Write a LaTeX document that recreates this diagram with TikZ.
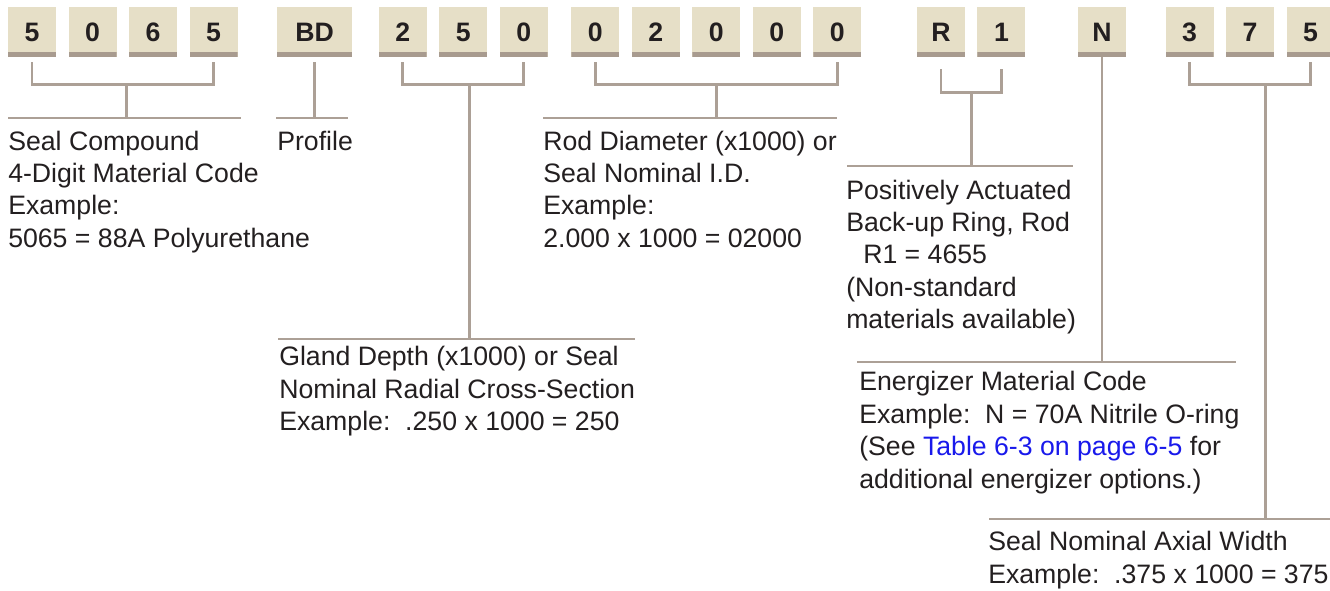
\documentclass[tikz,border=0pt]{standalone}
\usepackage{fontspec}
\setmainfont{Liberation Sans}
\usepackage{tikz}
\usetikzlibrary{positioning, calc}
\definecolor{tanfill}{RGB}{230,223,199}
\definecolor{tanbar}{RGB}{168,155,143}
\definecolor{tanline}{RGB}{172,160,150}
\definecolor{inktext}{RGB}{35,31,32}
\definecolor{linkblue}{RGB}{25,25,235}

\begin{document}
\begin{tikzpicture}[
  x=0.75pt, y=-0.75pt,
  digit/.style={rectangle, fill=tanfill, minimum width=36pt, minimum height=37.5pt,
                inner sep=0pt, text=inktext,
                font=\fontsize{20}{24}\selectfont\bfseries,
                path picture={\fill[tanbar] (path picture bounding box.south west)
                  rectangle ([yshift=3.75pt]path picture bounding box.south east);}},
  wide/.style={digit, minimum width=56.25pt},
  bracket/.style={draw=tanline, line width=2pt},
  note/.style={anchor=north west, align=left, inner sep=0pt, text=inktext,
               font=\fontsize{20}{24.3}\selectfont, execute at begin node=\strut},
]
  \useasboundingbox (0,0) rectangle (1330,590);

  \node[digit] (c1) at (32,32) {5};
  \node[digit, right=9pt of c1]     (c2) {0};
  \node[digit, right=9pt of c2]     (c3) {6};
  \node[digit, right=9pt of c3]     (c4) {5};
  \node[wide,  right=29.25pt of c4] (p)  {BD};
  \node[digit, right=19.5pt of p]   (g1) {2};
  \node[digit, right=9pt of g1]     (g2) {5};
  \node[digit, right=9pt of g2]     (g3) {0};
  \node[digit, right=17.25pt of g3] (r1) {0};
  \node[digit, right=9pt of r1]     (r2) {2};
  \node[digit, right=9pt of r2]     (r3) {0};
  \node[digit, right=9pt of r3]     (r4) {0};
  \node[digit, right=9pt of r4]     (r5) {0};
  \node[digit, right=41.25pt of r5] (b1) {R};
  \node[digit, right=9pt of b1]     (b2) {1};
  \node[digit, right=39pt of b2]    (e)  {N};
  \node[digit, right=29.25pt of e]  (w1) {3};
  \node[digit, right=9pt of w1]     (w2) {7};
  \node[digit, right=9pt of w2]     (w3) {5};

  \coordinate (cmpA)  at (8,118);   \coordinate (cmpB)  at (241,118);
  \coordinate (profA) at (276,118); \coordinate (profB) at (348,118);
  \coordinate (glaA)  at (278,339); \coordinate (glaB)  at (635,339);
  \coordinate (rodA)  at (543,118); \coordinate (rodB)  at (837,118);
  \coordinate (bupA)  at (847,166); \coordinate (bupB)  at (1073,166);
  \coordinate (eneA)  at (857,362); \coordinate (eneB)  at (1236,362);
  \coordinate (axA)   at (989,519); \coordinate (axB)   at (1330,519);

  \draw[bracket] (cmpA)  -- (cmpB);
  \draw[bracket] (profA) -- (profB);
  \draw[bracket] (glaA)  -- (glaB);
  \draw[bracket] (rodA)  -- (rodB);
  \draw[bracket] (bupA)  -- (bupB);
  \draw[bracket] (eneA)  -- (eneB);
  \draw[bracket] (axA)   -- (axB);

  \draw[bracket] ([yshift=-3.75pt]c1.south) -- ++(0,22) -| ([yshift=-3.75pt]c4.south);
  \coordinate (m1) at ($(c1.south)!.52!(c4.south)+(0,27)$);
  \draw[bracket] (m1) -- (m1 |- cmpA);

  \draw[bracket] ([yshift=-3.75pt]p.south) -- (p.south |- profA);

  \draw[bracket] ([yshift=-3.75pt]g1.south) -- ++(0,22) -| ([yshift=-3.75pt]g3.south);
  \coordinate (m2) at ($(g1.south)!.55!(g3.south)+(0,27)$);
  \draw[bracket] (m2) -- (m2 |- glaA);

  \draw[bracket] ([yshift=-3.75pt]r1.south) -- ++(0,22) -| ([yshift=-3.75pt]r5.south);
  \coordinate (m3) at ($(r1.south)!.5!(r5.south)+(0,27)$);
  \draw[bracket] (m3) -- (m3 |- rodA);

  \draw[bracket] ([yshift=-9pt]b1.south) -- ++(0,23) -| ([yshift=-9pt]b2.south);
  \coordinate (m4) at ($(b1.south)!.5!(b2.south)+(0,35)$);
  \draw[bracket] (m4) -- (m4 |- bupA);

  \draw[bracket] (e.south) -- (e.south |- eneA);

  \draw[bracket] ([yshift=-3.75pt]w1.south) -- ++(0,22) -| ([yshift=-3.75pt]w3.south);
  \coordinate (m5) at ($(w1.south)!.63!(w3.south)+(0,27)$);
  \draw[bracket] (m5) -- (m5 |- axA);

  \node[note] (cmp)  at (8,130.6)   {Seal Compound\\4-Digit Material Code\\Example:\\5065 = 88A Polyurethane};
  \node[note] (prof) at (277,127.6) {Profile};
  \node[note] (rod)  at (543,130.6) {Rod Diameter (x1000) or\\Seal Nominal I.D.\\Example:\\2.000 x 1000 = 02000};
  \node[note] (bup)  at (846,179.6) {Positively Actuated\\Back-up Ring, Rod\\\hspace*{12.75pt}R1 = 4655\\(Non-standard\\materials available)};
  \node[note] (gla)  at (279,346.3) {Gland Depth (x1000) or Seal\\Nominal Radial Cross-Section\\Example:\ \ .250 x 1000 = 250};
  \node[note] (ene)  at (859,371.3) {Energizer Material Code\\Example:\ \ N = 70A Nitrile O-ring\\(See \textcolor{linkblue}{Table 6-3 on page 6-5} for\\additional energizer options.)};
  \node[note] (ax)   at (988,531.3) {Seal Nominal Axial Width\\Example:\ \ .375 x 1000 = 375};
\end{tikzpicture}
\end{document}
